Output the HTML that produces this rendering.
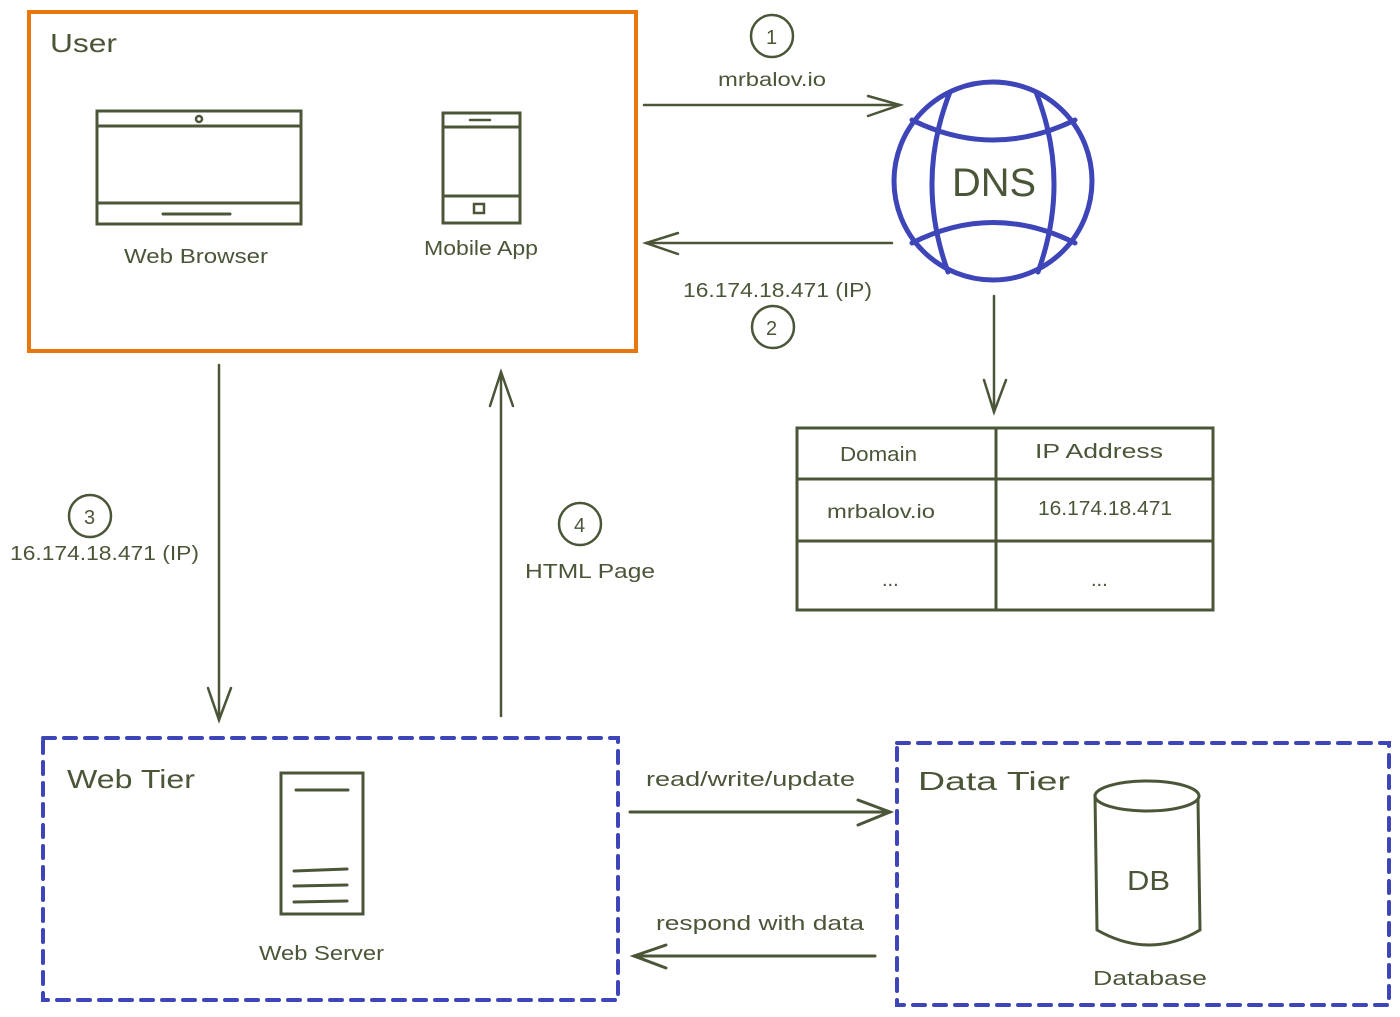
<!DOCTYPE html>
<html><head><meta charset="utf-8"><style>
html,body{margin:0;padding:0;background:#fff;}
svg{display:block;}
text{font-family:"Liberation Sans",sans-serif;fill:#4b5638;}
</style></head><body>
<svg width="1400" height="1017" viewBox="0 0 1400 1017" xmlns="http://www.w3.org/2000/svg">
<g fill="none" stroke="#4b5638" stroke-width="2.5" stroke-linecap="round">
<rect x="29" y="12" width="607" height="339" stroke="#e8780c" stroke-width="4"/>
<rect x="97" y="111" width="204" height="113" stroke-width="3"/>
<line x1="97" y1="126" x2="301" y2="126" stroke-width="3"/>
<line x1="97" y1="203" x2="301" y2="203" stroke-width="3"/>
<line x1="163" y1="214" x2="230" y2="214" stroke-width="3"/>
<circle cx="199" cy="119" r="3"/>
<rect x="443" y="113" width="77" height="110" stroke-width="3"/>
<line x1="443" y1="127" x2="520" y2="127" stroke-width="3"/>
<line x1="443" y1="196" x2="520" y2="196" stroke-width="3"/>
<line x1="470" y1="120" x2="490" y2="120"/>
<rect x="474" y="204" width="10" height="9"/>
<g stroke="#3d45b8" stroke-width="5">
<circle cx="993" cy="181" r="99"/>
<path d="M950 92 Q915 181 948 272"/>
<path d="M1036 92 Q1071 181 1038 272"/>
<path d="M912 120 Q993 160 1075 120"/>
<path d="M912 243 Q993 202 1075 243"/>
</g>
<line x1="644" y1="105" x2="900" y2="105"/>
<path d="M868 96 L900 105 L868 116"/>
<line x1="892" y1="243" x2="646" y2="243"/>
<path d="M678 233 L646 243 L678 254"/>
<line x1="994" y1="296" x2="994" y2="412"/>
<path d="M984 380 L994 412 L1006 380"/>
<circle cx="772" cy="36" r="21"/>
<circle cx="773" cy="327" r="21"/>
<circle cx="90" cy="516" r="21"/>
<circle cx="580" cy="524" r="21"/>
<rect x="797" y="428" width="416" height="182" stroke-width="3"/>
<line x1="996" y1="428" x2="996" y2="610" stroke-width="3"/>
<line x1="797" y1="479" x2="1213" y2="479" stroke-width="3"/>
<line x1="797" y1="541" x2="1213" y2="541" stroke-width="3"/>
<line x1="219" y1="365" x2="219" y2="720"/>
<path d="M208 688 L219 720 L231 688"/>
<line x1="501" y1="716" x2="501" y2="372"/>
<path d="M490 406 L501 372 L513 406"/>
<rect x="43" y="738" width="575" height="262" stroke="#3d45b8" stroke-width="4" stroke-dasharray="12 9"/>
<rect x="281" y="773" width="82" height="141" stroke-width="3"/>
<line x1="296" y1="790" x2="348" y2="790" stroke-width="3"/>
<line x1="294" y1="871" x2="347" y2="869" stroke-width="3"/>
<line x1="294" y1="886" x2="347" y2="885" stroke-width="3"/>
<line x1="294" y1="902" x2="347" y2="901" stroke-width="3"/>
<rect x="897" y="743" width="492" height="262" stroke="#3d45b8" stroke-width="4" stroke-dasharray="12 9"/>
<path d="M1095 795 L1097 930 Q1150 960 1200 930 L1198 800" stroke-width="3"/>
<ellipse cx="1147" cy="796" rx="52" ry="15" stroke-width="3"/>
<line x1="630" y1="812" x2="890" y2="812" stroke-width="3"/>
<path d="M858 800 L890 812 L858 825" stroke-width="3"/>
<line x1="875" y1="956" x2="634" y2="956" stroke-width="3"/>
<path d="M666 945 L634 956 L666 968" stroke-width="3"/>
</g>
<text x="50" y="52" font-size="26" textLength="67" lengthAdjust="spacingAndGlyphs">User</text>
<text x="124" y="263" font-size="20" textLength="144" lengthAdjust="spacingAndGlyphs">Web Browser</text>
<text x="424" y="255" font-size="20" textLength="114" lengthAdjust="spacingAndGlyphs">Mobile App</text>
<text x="766" y="44" font-size="20">1</text>
<text x="718" y="86" font-size="19" textLength="108" lengthAdjust="spacingAndGlyphs">mrbalov.io</text>
<text x="952" y="196" font-size="40" textLength="84" lengthAdjust="spacingAndGlyphs">DNS</text>
<text x="683" y="297" font-size="20" textLength="189" lengthAdjust="spacingAndGlyphs">16.174.18.471 (IP)</text>
<text x="766" y="335" font-size="20">2</text>
<text x="840" y="461" font-size="20" textLength="77" lengthAdjust="spacingAndGlyphs">Domain</text>
<text x="1035" y="458" font-size="20" textLength="128" lengthAdjust="spacingAndGlyphs">IP Address</text>
<text x="827" y="518" font-size="19" textLength="108" lengthAdjust="spacingAndGlyphs">mrbalov.io</text>
<text x="1038" y="515" font-size="20" textLength="134" lengthAdjust="spacingAndGlyphs">16.174.18.471</text>
<text x="882" y="586" font-size="20">...</text>
<text x="1091" y="586" font-size="20">...</text>
<text x="84" y="524" font-size="20">3</text>
<text x="10" y="560" font-size="20" textLength="189" lengthAdjust="spacingAndGlyphs">16.174.18.471 (IP)</text>
<text x="574" y="532" font-size="20">4</text>
<text x="525" y="578" font-size="20" textLength="130" lengthAdjust="spacingAndGlyphs">HTML Page</text>
<text x="67" y="788" font-size="26" textLength="128" lengthAdjust="spacingAndGlyphs">Web Tier</text>
<text x="259" y="960" font-size="20" textLength="125" lengthAdjust="spacingAndGlyphs">Web Server</text>
<text x="646" y="786" font-size="20" textLength="209" lengthAdjust="spacingAndGlyphs">read/write/update</text>
<text x="656" y="930" font-size="20" textLength="208" lengthAdjust="spacingAndGlyphs">respond with data</text>
<text x="918" y="790" font-size="26" textLength="152" lengthAdjust="spacingAndGlyphs">Data Tier</text>
<text x="1127" y="890" font-size="28" textLength="43" lengthAdjust="spacingAndGlyphs">DB</text>
<text x="1093" y="985" font-size="20" textLength="114" lengthAdjust="spacingAndGlyphs">Database</text>
</svg>
</body></html>
